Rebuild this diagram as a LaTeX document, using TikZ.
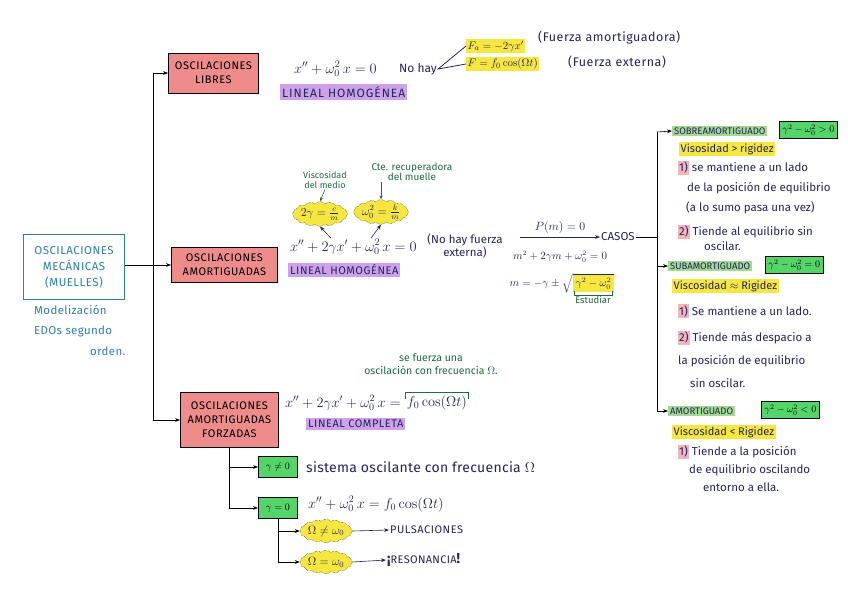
\documentclass[tikz,border=0pt]{standalone}
\usepackage{amsmath,amssymb}
\usepackage[no-math]{fontspec}
\setmainfont{Fira Sans}
\usepackage{xcolor}
\usepackage{tikz}
\usetikzlibrary{positioning,arrows.meta,calc,shapes.symbols}
\definecolor{MAPink}{HTML}{24245C}
\definecolor{MAPteal}{HTML}{2F7FA6}
\definecolor{MAPgreenink}{HTML}{1F6B3F}
\definecolor{MAPpink}{HTML}{EE8C8C}
\definecolor{MAProse}{HTML}{F4B4BC}
\definecolor{MAPpurple}{HTML}{CDA2EA}
\definecolor{MAPyellow}{HTML}{F6E640}
\definecolor{MAPgreen}{HTML}{55D46A}
\definecolor{MAPlgreen}{HTML}{A3D993}
\newcommand{\nb}[1]{{\setlength{\fboxsep}{1pt}\colorbox{MAProse}{#1}}}
\newcommand{\spaced}[1]{\addfontfeature{LetterSpace=#1}}
\tikzset{
  rootbox/.style={draw=MAPteal, thick, text=MAPteal, align=center, minimum width=101pt, minimum height=65pt, font=\fontsize{11.5}{16}\selectfont\spaced{4}},
  tealnote/.style={text=MAPteal, align=left, inner sep=1pt, font=\fontsize{11.5}{20.5}\selectfont\spaced{3}},
  pinkbox/.style={draw=black, thick, fill=MAPpink, align=center, text=black, inner sep=2pt, font=\fontsize{11}{14}\selectfont\spaced{5}},
  greenbox/.style={draw=black, thick, fill=MAPgreen, text=black, inner sep=3pt, font=\fontsize{10}{12}\selectfont},
  ink/.style={text=MAPink, align=left, inner sep=1pt, font=\fontsize{11.5}{13}\selectfont},
  eqn/.style={text=MAPink, inner sep=1pt, font=\fontsize{14}{16}\selectfont},
  purplehl/.style={fill=MAPpurple, text=MAPink, inner sep=2pt, font=\fontsize{11}{12}\selectfont\spaced{5}},
  yellowhl/.style={fill=MAPyellow, text=MAPink, inner sep=1.5pt, font=\fontsize{11}{12}\selectfont},
  lgreenhl/.style={fill=MAPlgreen, text=MAPink, inner sep=2pt, font=\fontsize{9.5}{10}\selectfont},
  greennote/.style={text=MAPgreenink, align=center, inner sep=1pt, font=\fontsize{9}{9.5}\selectfont},
  bubble/.style={cloud, cloud puffs=16, cloud puff arc=90, aspect=2.6, draw=black, densely dotted, fill=MAPyellow, inner sep=0pt, text=MAPink, font=\fontsize{12}{13}\selectfont},
  trunk/.style={semithick, draw=black},
  maparr/.style={-{Stealth[length=5pt]}, semithick, draw=black},
  notearr/.style={-{Stealth[length=4pt]}, semithick, draw=MAPgreenink}
}

\begin{document}
\begin{tikzpicture}[x=1pt, y=-1pt, node distance=6pt]
\useasboundingbox[fill=white] (0,0) rectangle (848,605);

% raiz
\node[rootbox] (mec) at (74,267) {OSCILACIONES\\MECÁNICAS\\(MUELLES)};
\node[tealnote, anchor=north west] (edo) at (33,304) {Modelización\\EDOs segundo\\\hspace*{56pt}orden.};

\coordinate (t1) at (153,73);
\coordinate (t2) at (153,265);
\coordinate (t3) at (153,420);
\node[pinkbox, anchor=west, minimum width=90pt, minimum height=40pt] (lib) at (168,73) {OSCILACIONES\\LIBRES};
\node[pinkbox, anchor=west, minimum width=106pt, minimum height=35pt] (amo) at (171,265) {OSCILACIONES\\AMORTIGUADAS};
\node[pinkbox, anchor=west, minimum width=98pt, minimum height=55pt] (for) at (180,420) {OSCILACIONES\\AMORTIGUADAS\\FORZADAS};
\draw[trunk] (t1) -- (t3);
\draw[trunk] (mec.east |- t2) -- (t2);
\draw[maparr] (t1) -- (lib.west);
\draw[maparr] (t2) -- (amo.west);
\draw[maparr] (t3) -- (for.west);

% libres
\node[eqn, anchor=west] (eql) at (293,69) {$x'' + \omega_0^2\, x = 0$};
\node[ink, anchor=west, font=\fontsize{12}{13}\selectfont] (nohay) at (398,69) {No hay};
\node[yellowhl, anchor=west] (fa) at (466,46) {$F_a = -2\gamma x'$};
\node[yellowhl, anchor=west] (fe) at (466,64) {$F = f_0 \cos(\Omega t)$};
\node[ink, anchor=west, font=\fontsize{12.5}{14}\selectfont\spaced{4}] (fat) at (537,38) {(Fuerza amortiguadora)};
\node[ink, anchor=west, font=\fontsize{12.5}{14}\selectfont\spaced{4}] (fet) at (567,62) {(Fuerza externa)};
\draw[thick, MAPink] (fa.west) -- (nohay.east) -- (fe.west);
\node[purplehl, anchor=west, font=\fontsize{12}{13}\selectfont\spaced{8}] (lh1) at (280,92) {LINEAL HOMOGÉNEA};

% amortiguadas
\node[greennote] (vis) at (325,180) {Viscosidad\\del medio};
\node[greennote, font=\fontsize{10}{10}\selectfont] (cte) at (412,172) {Cte. recuperadora\\del muelle};
\node[bubble] (b1) at (320,214) {$2\gamma = \frac{c}{m}$};
\node[bubble] (b2) at (381,212) {$\omega_0^2 = \frac{k}{m}$};
\draw[notearr] (vis.south) -- (b1.north);
\draw[notearr] (cte.south -| b2.north) -- (b2.north);
\node[eqn, anchor=west] (eqa) at (289,247) {$x'' + 2\gamma x' + \omega_0^2\, x = 0$};
\coordinate (g1) at ([xshift=42pt]eqa.north west);
\coordinate (g2) at ([xshift=82pt]eqa.north west);
\draw[maparr, MAPink] (g1) -- (b1.south);
\draw[maparr, MAPink] (g2) -- (b2.south);
\node[purplehl, anchor=west] (lh2) at (288,270) {LINEAL HOMOGÉNEA};
\node[ink, align=center] (nof) at (465,246) {(No hay fuerza\\externa)};
\coordinate (pm) at (520,237);
\node[ink, anchor=west] (casos) at (600,237) {CASOS};
\draw[maparr, MAPink] (pm) -- node[ink, above=2pt] {$P(m) = 0$} (casos.west);
\node[ink, font=\fontsize{10.5}{12}\selectfont] (car) at (560,257) {$m^2 + 2\gamma m + \omega_0^2 = 0$};
\node[ink, font=\fontsize{10.5}{12}\selectfont] (sol) at (562,283) {$m = -\gamma \pm \sqrt{\colorbox{MAPyellow}{$\gamma^2-\omega_0^2$}}$};
\node[greennote, font=\fontsize{9.5}{10}\selectfont] (est) at (593,300) {Estudiar};
\draw[MAPgreenink, semithick] ([yshift=4pt]est.north west) |- (est.north) -| ([yshift=4pt]est.north east);

% casos
\coordinate (s1) at (657,132);
\coordinate (s3) at (657,411);
\node[lgreenhl, anchor=west] (sob) at (672,131) {SOBREAMORTIGUADO};
\node[lgreenhl, anchor=west] (sub) at (668,266) {SUBAMORTIGUADO};
\node[lgreenhl, anchor=west] (amt) at (668,411) {AMORTIGUADO};
\draw[trunk] (casos.east) -- (casos.east -| s1);
\draw[trunk] (s1) -- (s3);
\draw[maparr] (s1) -- (sob.west);
\draw[maparr] (s1 |- sub.west) -- (sub.west);
\draw[maparr] (s3) -- (amt.west);
\node[greenbox, anchor=west] (k1) at (779,130) {$\gamma^2 - \omega_0^2 > 0$};
\node[greenbox, anchor=west] (k2) at (765,265) {$\gamma^2 - \omega_0^2 = 0$};
\node[greenbox, anchor=west] (k3) at (761,410) {$\gamma^2 - \omega_0^2 < 0$};

\node[yellowhl, anchor=west] (r1) at (679,149) {Visosidad > rigidez};
\node[ink, anchor=north west, font=\fontsize{11.5}{20}\selectfont] (p11) at (677,160) {\nb{1)} se mantiene a un lado\\\hspace*{9pt}de la posición de equilibrio\\\hspace*{8pt}(a lo sumo pasa una vez)};
\node[ink, anchor=north west, font=\fontsize{11.5}{15}\selectfont] (p12) at (677,224) {\nb{2)} Tiende al equilibrio sin\\\hspace*{26pt}oscilar.};

\node[yellowhl, anchor=west] (r2) at (672,286) {Viscosidad $\approx$ Rigidez};
\node[ink, anchor=west] (q11) at (677,311) {\nb{1)} Se mantiene a un lado.};
\node[ink, anchor=north west, font=\fontsize{11.5}{23}\selectfont] (q12) at (677,330) {\nb{2)} Tiende más despacio a\\la posición de equilibrio\\\hspace*{12pt}sin oscilar.};

\node[yellowhl, anchor=west] (r3) at (672,432) {Viscosidad < Rigidez};
\node[ink, anchor=north west, font=\fontsize{11.5}{18}\selectfont] (w11) at (677,444) {\nb{1)} Tiende a la posición\\\hspace*{11pt}de equilibrio oscilando\\\hspace*{25pt}entorno a ella.};

% forzadas
\node[greennote, font=\fontsize{10.5}{12.5}\selectfont] (sfz) at (431,364) {se fuerza una\\oscilación con frecuencia $\Omega$.};
\node[eqn, anchor=west] (eqf) at (284,403) {$x'' + 2\gamma x' + \omega_0^2\, x = {}$};
\node[eqn, right=0pt of eqf] (frz) {$f_0 \cos(\Omega t)$};
\draw[MAPgreenink, semithick] ([yshift=-4pt]frz.north west) |- ([yshift=2pt]frz.north) -| ([yshift=-4pt]frz.north east);
\node[purplehl, anchor=west] (lc) at (306,424) {LINEAL COMPLETA};

\node[greenbox, anchor=west, minimum width=39pt, minimum height=21pt] (gn) at (258,467) {$\gamma \neq 0$};
\node[greenbox, anchor=west, minimum width=39pt, minimum height=21pt] (g0) at (258,508) {$\gamma = 0$};
\draw[trunk] (for.south) -- (for.south |- g0.west);
\draw[maparr] (for.south |- gn.west) -- (gn.west);
\draw[maparr] (for.south |- g0.west) -- (g0.west);
\node[ink, anchor=west, font=\fontsize{14}{16}\selectfont\spaced{2}] (sos) at (305,467) {sistema oscilante con frecuencia $\Omega$};
\node[eqn, anchor=west] (eqs) at (307,504) {$x'' + \omega_0^2\, x = f_0 \cos(\Omega t)$};

\node[bubble] (b3) at (326,531) {$\Omega \neq \omega_0$};
\node[bubble] (b4) at (326,562) {$\Omega = \omega_0$};
\draw[trunk] (g0.south) -- (g0.south |- b4.west);
\draw[maparr] (g0.south |- b3.west) -- (b3.west);
\draw[maparr] (g0.south |- b4.west) -- (b4.west);
\node[ink, anchor=west, font=\fontsize{11}{12}\selectfont\spaced{5}] (pul) at (389,530) {PULSACIONES};
\node[ink, anchor=west, font=\fontsize{11}{12}\selectfont\spaced{3}] (res) at (386,560) {{\Large\bfseries ¡}RESONANCIA{\Large\bfseries !}};
\draw[maparr, MAPink] (b3.east) -- (pul.west);
\draw[maparr, MAPink] (b4.east) -- (res.west);
\end{tikzpicture}
\end{document}
